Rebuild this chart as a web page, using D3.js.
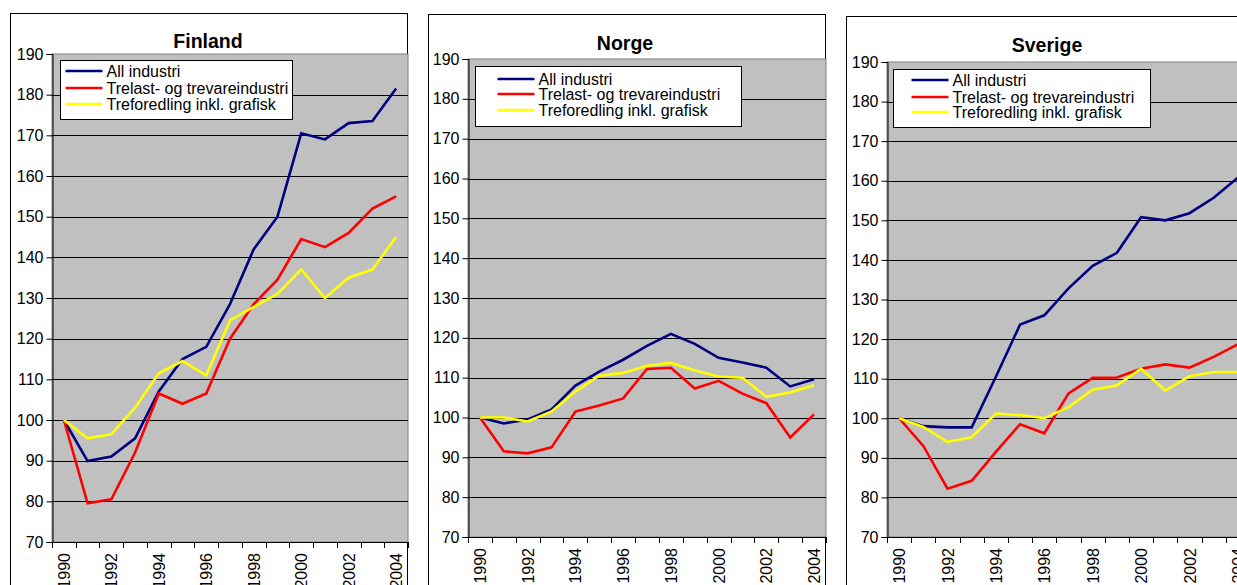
<!DOCTYPE html>
<html>
<head>
<meta charset="utf-8">
<script src="https://cdn.jsdelivr.net/npm/d3@7"></script>
<style>
  html, body { margin: 0; padding: 0; background: #fff; overflow: hidden; }
  svg { display: block; font-family: "Liberation Sans", Arial, sans-serif; }
</style>
</head>
<body>
<svg id="chart" width="1237" height="585"></svg>
<script>
var years = d3.range(1990, 2005);
var yearLabels = ["1990", "1992", "1994", "1996", "1998", "2000", "2002", "2004"];
var yTicks = [70, 80, 90, 100, 110, 120, 130, 140, 150, 160, 170, 180, 190];
var seriesNames = ["All industri", "Trelast- og trevareindustri", "Treforedling inkl. grafisk"];
var colors = ["#000080", "#ff0000", "#ffff00"];

// index 1990 = 100
var finlandAll   = [100, 89.9, 91, 95.5, 107, 115, 118, 128.5, 142, 150, 170.5, 169, 173, 173.5, 181.5];
var finlandTre   = [100, 79.5, 80.5, 92, 106.5, 104, 106.5, 120, 128.5, 134.5, 144.5, 142.5, 146, 152, 155];
var finlandFored = [100, 95.5, 96.5, 103, 111.5, 114.5, 111, 124.5, 127.8, 131, 137, 130, 135, 137, 145];

var norgeAll   = [100, 98.5, 99.5, 102, 108, 111.5, 114.5, 118, 121, 118.5, 115, 113.8, 112.5, 107.8, 109.6];
var norgeTre   = [100, 91.5, 91, 92.5, 101.5, 103, 104.8, 112.2, 112.5, 107.3, 109.2, 106, 103.6, 95, 100.8];
var norgeFored = [100, 100, 99, 101.5, 106.5, 110.5, 111.2, 113, 113.7, 111.8, 110.3, 110, 105.2, 106.3, 108.1];

var sverigeAll   = [100, 98, 97.7, 97.7, 110.5, 123.7, 126, 132.8, 138.5, 141.8, 150.8, 150, 151.8, 155.7, 160.8];
var sverigeTre   = [100, 93, 82.2, 84.2, 91.5, 98.5, 96.2, 106.3, 110.2, 110.3, 112.5, 113.6, 112.8, 115.5, 118.7];
var sverigeFored = [100, 97.8, 94, 95.2, 101.2, 100.8, 100, 102.8, 107.2, 108.3, 112.5, 107, 110.6, 111.7, 111.7];

var panels = [
  { title: "Finland", series: [finlandAll, finlandTre, finlandFored],
    box: {x: 10.5, y: 13.5, w: 397}, plot: {x: 52, y: 54, w: 356, h: 488},
    titleX: 208, titleY: 48, legend: {x: 60.5, y: 60.5, w: 232, h: 59, lx: 5, rows: [71, 88, 104]} },
  { title: "Norge", series: [norgeAll, norgeTre, norgeFored],
    box: {x: 428.5, y: 14.5, w: 397}, plot: {x: 468, y: 59, w: 358, h: 478},
    titleX: 625, titleY: 50, legend: {x: 475.5, y: 66.5, w: 266, h: 60, lx: 22, rows: [79, 94, 110]} },
  { title: "Sverige", series: [sverigeAll, sverigeTre, sverigeFored],
    box: {x: 846.5, y: 16.5, w: 420}, plot: {x: 887, y: 62, w: 363, h: 475},
    titleX: 1047, titleY: 52, legend: {x: 893.5, y: 69.5, w: 257, h: 58, lx: 18, rows: [80, 97, 112]} }
];

var svg = d3.select("#chart");

panels.forEach(function(p) {
  var g = svg.append("g");

  // chart frame
  g.append("rect")
    .attr("x", p.box.x).attr("y", p.box.y)
    .attr("width", p.box.w).attr("height", 700)
    .attr("fill", "#fff").attr("stroke", "#000").attr("stroke-width", 1);

  var x = d3.scaleBand().domain(years).range([p.plot.x, p.plot.x + p.plot.w]).padding(0);
  var y = d3.scaleLinear().domain([70, 190]).range([p.plot.y + p.plot.h, p.plot.y]);

  // plot area
  g.append("rect")
    .attr("x", p.plot.x).attr("y", p.plot.y)
    .attr("width", p.plot.w).attr("height", p.plot.h)
    .attr("fill", "#c0c0c0").attr("stroke", "#808080").attr("stroke-width", 1);

  // gridlines
  g.selectAll(".grid")
    .data(yTicks.filter(function(d) { return d > 70 && d < 190; }))
    .enter().append("line")
      .attr("x1", p.plot.x).attr("x2", p.plot.x + p.plot.w)
      .attr("y1", function(d) { return Math.round(y(d)) + 0.5; })
      .attr("y2", function(d) { return Math.round(y(d)) + 0.5; })
      .attr("stroke", "#000").attr("stroke-width", 1);

  // y axis
  var yAxis = d3.axisLeft(y).tickValues(yTicks).tickSize(6).tickPadding(3).tickFormat(d3.format("d"));
  var ya = g.append("g")
    .attr("transform", "translate(" + (p.plot.x + 0.5) + ",0)")
    .call(yAxis);
  ya.select(".domain").attr("stroke", "#000");
  ya.selectAll("text").attr("font-size", 16).attr("fill", "#000")
    .attr("font-family", "'Liberation Sans', Arial, sans-serif");

  // x axis line + ticks between categories
  var base = p.plot.y + p.plot.h;
  g.append("line")
    .attr("x1", p.plot.x).attr("x2", p.plot.x + p.plot.w)
    .attr("y1", base + 0.5).attr("y2", base + 0.5)
    .attr("stroke", "#000");
  var bounds = years.map(function(d) { return x(d); }).concat([x(years[years.length - 1]) + x.bandwidth()]);
  g.selectAll(".xt")
    .data(bounds)
    .enter().append("line")
      .attr("x1", function(d) { return Math.round(d) + 0.5; })
      .attr("x2", function(d) { return Math.round(d) + 0.5; })
      .attr("y1", base).attr("y2", base + 6)
      .attr("stroke", "#000");

  g.selectAll(".xl")
    .data(yearLabels)
    .enter().append("text")
      .attr("transform", function(d) {
        return "translate(" + (x(+d) + x.bandwidth() / 2 + 6) + "," + (base + 11) + ")rotate(-90)";
      })
      .attr("text-anchor", "end")
      .attr("font-size", 16)
      .text(function(d) { return d; });

  // lines
  var line = d3.line()
    .x(function(d, i) { return x(years[i]) + x.bandwidth() / 2; })
    .y(function(d) { return y(d); });

  p.series.forEach(function(s, i) {
    g.append("path")
      .datum(s)
      .attr("d", line)
      .attr("fill", "none")
      .attr("stroke", colors[i])
      .attr("stroke-width", 2.6)
      .attr("stroke-linejoin", "miter");
  });

  // title
  g.append("text")
    .attr("x", p.titleX).attr("y", p.titleY)
    .attr("text-anchor", "middle")
    .attr("font-size", 19.5).attr("font-weight", "bold")
    .text(p.title);

  // legend
  var L = p.legend;
  var lg = g.append("g");
  lg.append("rect")
    .attr("x", L.x).attr("y", L.y).attr("width", L.w).attr("height", L.h)
    .attr("fill", "#fff").attr("stroke", "#000");
  var clipId = "clip-" + p.title;
  lg.append("clipPath").attr("id", clipId)
    .append("rect").attr("x", L.x).attr("y", L.y).attr("width", L.w).attr("height", L.h);
  seriesNames.forEach(function(name, i) {
    lg.append("line")
      .attr("x1", L.x + L.lx).attr("x2", L.x + L.lx + 37)
      .attr("y1", L.rows[i]).attr("y2", L.rows[i])
      .attr("stroke", colors[i]).attr("stroke-width", 2.6);
    lg.append("text")
      .attr("x", L.x + L.lx + 41).attr("y", L.rows[i])
      .attr("dy", "0.36em")
      .attr("font-size", 16)
      .attr("clip-path", "url(#" + clipId + ")")
      .text(name);
  });
});
</script>
</body>
</html>
